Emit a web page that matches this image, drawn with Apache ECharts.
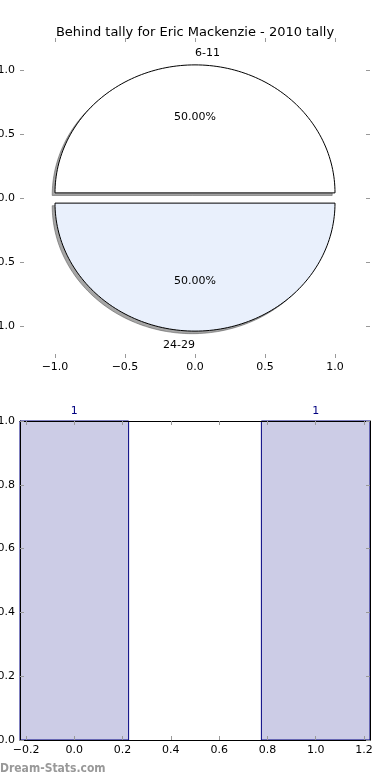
<!DOCTYPE html>
<html><head><meta charset="utf-8">
<script src="https://cdn.jsdelivr.net/npm/echarts@6/dist/echarts.min.js"></script>
<style>html,body{margin:0;padding:0;background:#fff}#c{width:390px;height:780px}</style>
</head><body><div id="c"></div>
<script>
const titleText = 'Behind tally for Eric Mackenzie - 2010 tally';
const pieLabels = ['6-11', '24-29'];
const pieValues = [1, 1];
const pieColors = ['#ffffff', '#e9f0fc'];
const pieTicks = [-1.0, -0.5, 0.0, 0.5, 1.0];
const barX = [0, 1];
const barValues = [1, 1];
const barXTicks = [-0.2, 0.0, 0.2, 0.4, 0.6, 0.8, 1.0, 1.2];
const barYTicks = [0.0, 0.2, 0.4, 0.6, 0.8, 1.0];
const watermark = 'Dream-Stats.com';

const EXPLODE = 0.04, RADIUS = 1, SHADOW = 0.02, BAR_W = 0.45;
const FONT = 'DejaVu Sans';
const total = pieValues.reduce((a, b) => a + b, 0);
const fmt = v => (Math.abs(v) < 1e-9 ? '0.0' : v.toFixed(1).replace('-', '\u2212'));

function wedgeGeom(i) {
  let start = 0;
  for (let k = 0; k < i; k++) start += pieValues[k] / total * 360;
  const span = pieValues[i] / total * 360;
  const mid = (start + span / 2) * Math.PI / 180;
  const cx = EXPLODE * Math.cos(mid), cy = EXPLODE * Math.sin(mid);
  const pts = [[cx, cy]];
  const N = 120;
  for (let s = 0; s <= N; s++) {
    const a = (start + span * s / N) * Math.PI / 180;
    pts.push([cx + RADIUS * Math.cos(a), cy + RADIUS * Math.sin(a)]);
  }
  return { pts, cx, cy, mid };
}

const chart = echarts.init(document.getElementById('c'), null, { renderer: 'canvas' });
const tickStyle = { show: true, inside: true, length: 4, lineStyle: { color: '#999', width: 1 } };
const lbl = { color: '#000', fontSize: 11, fontFamily: FONT, formatter: fmt };
const noLine = { show: false, onZero: false };
const blackLine = { show: true, onZero: false, lineStyle: { color: '#000', width: 1 } };

chart.setOption({
  animation: false,
  textStyle: { fontFamily: FONT },
  title: { text: titleText, left: 'center', top: 21, textStyle: { fontSize: 13, fontWeight: 'normal', color: '#000', fontFamily: FONT } },
  grid: [
    { left: 20, width: 350, top: 38, height: 320, containLabel: false, outerBoundsMode: 'none' },
    { left: 20, width: 350, top: 421, height: 319, containLabel: false, outerBoundsMode: 'none' }
  ],
  xAxis: [
    { gridIndex: 0, type: 'value', min: -1.25, max: 1.25, position: 'bottom', axisLine: noLine,
      axisTick: Object.assign({}, tickStyle, { customValues: pieTicks }), splitLine: { show: false },
      axisLabel: Object.assign({}, lbl, { customValues: pieTicks, margin: 4 }) },
    { gridIndex: 0, type: 'value', min: -1.25, max: 1.25, position: 'top', axisLine: noLine,
      axisTick: Object.assign({}, tickStyle, { customValues: pieTicks }), splitLine: { show: false },
      axisLabel: { show: false } },
    { gridIndex: 1, type: 'value', min: -0.225, max: 1.225, position: 'bottom', z: 10, axisLine: blackLine,
      axisTick: Object.assign({}, tickStyle, { customValues: barXTicks }), splitLine: { show: false },
      axisLabel: Object.assign({}, lbl, { customValues: barXTicks, margin: 5 }) },
    { gridIndex: 1, type: 'value', min: -0.225, max: 1.225, position: 'top', z: 10, axisLine: blackLine,
      axisTick: Object.assign({}, tickStyle, { customValues: barXTicks }), splitLine: { show: false },
      axisLabel: { show: false } }
  ],
  yAxis: [
    { gridIndex: 0, type: 'value', min: -1.25, max: 1.25, position: 'left', axisLine: noLine,
      axisTick: Object.assign({}, tickStyle, { customValues: pieTicks }), splitLine: { show: false },
      axisLabel: Object.assign({}, lbl, { customValues: pieTicks, margin: 5 }) },
    { gridIndex: 0, type: 'value', min: -1.25, max: 1.25, position: 'right', axisLine: noLine,
      axisTick: Object.assign({}, tickStyle, { customValues: pieTicks }), splitLine: { show: false },
      axisLabel: { show: false } },
    { gridIndex: 1, type: 'value', min: 0, max: 1, position: 'left', z: 10, axisLine: blackLine,
      axisTick: Object.assign({}, tickStyle, { customValues: barYTicks }), splitLine: { show: false },
      axisLabel: Object.assign({}, lbl, { customValues: barYTicks, margin: 5 }) },
    { gridIndex: 1, type: 'value', min: 0, max: 1, position: 'right', z: 10, axisLine: blackLine,
      axisTick: Object.assign({}, tickStyle, { customValues: barYTicks }), splitLine: { show: false },
      axisLabel: { show: false } }
  ],
  graphic: [
    { type: 'text', left: 0, top: 763, style: { text: watermark, fill: '#999999', font: 'bold 12px "DejaVu Sans Condensed", "DejaVu Sans"' } }
  ],
  series: [
    { type: 'custom', name: 'shadow', xAxisIndex: 0, yAxisIndex: 0, z: 1, silent: true,
      data: pieValues.map((v, i) => [0, 0, v, i]),
      renderItem: (params, api) => {
        const g = wedgeGeom(params.dataIndex);
        return { type: 'polygon', shape: { points: g.pts.map(p => api.coord([p[0] - SHADOW, p[1] - SHADOW])) },
          style: { fill: 'rgba(77,77,77,0.5)', stroke: 'rgba(77,77,77,0.5)', lineWidth: 1 } };
      } },
    { type: 'custom', name: 'pie', xAxisIndex: 0, yAxisIndex: 0, z: 2, silent: true,
      data: pieValues.map((v, i) => [0, 0, v, i]),
      renderItem: (params, api) => {
        const i = params.dataIndex;
        const g = wedgeGeom(i);
        const lx = g.cx + 1.1 * RADIUS * Math.cos(g.mid), ly = g.cy + 1.1 * RADIUS * Math.sin(g.mid);
        const lp = api.coord([lx, ly]);
        const pp = api.coord([g.cx + 0.6 * RADIUS * Math.cos(g.mid), g.cy + 0.6 * RADIUS * Math.sin(g.mid)]);
        const pct = (pieValues[i] / total * 100).toFixed(2) + '%';
        return { type: 'group', children: [
          { type: 'polygon', shape: { points: g.pts.map(p => api.coord(p)) },
            style: { fill: pieColors[i], stroke: '#000', lineWidth: 1 } },
          { type: 'text', style: { text: pieLabels[i], x: lp[0], y: lp[1] + 1, align: lx > 0 ? 'left' : 'right',
            verticalAlign: 'middle', fill: '#000', font: '11px ' + FONT } },
          { type: 'text', style: { text: pct, x: pp[0], y: pp[1] + 1, align: 'center',
            verticalAlign: 'middle', fill: '#000', font: '11px ' + FONT } }
        ] };
      } },
    { type: 'custom', name: 'bars', xAxisIndex: 2, yAxisIndex: 2, z: 2, silent: true,
      data: barX.map((x, i) => [x, barValues[i]]),
      renderItem: (params, api) => {
        const x = api.value(0), v = api.value(1);
        const p0 = api.coord([x - BAR_W / 2, v]);
        const p1 = api.coord([x + BAR_W / 2, 0]);
        const top = api.coord([x, v]);
        return { type: 'group', children: [
          { type: 'rect', shape: { x: p0[0], y: p0[1], width: p1[0] - p0[0], height: p1[1] - p0[1] },
            style: { fill: '#cccce6', stroke: '#000080', lineWidth: 1 } },
          { type: 'text', style: { text: String(v), x: top[0], y: top[1] - 4, align: 'center',
            verticalAlign: 'bottom', fill: '#000080', font: '11px ' + FONT } }
        ] };
      } }
  ]
});
</script>
</body></html>
